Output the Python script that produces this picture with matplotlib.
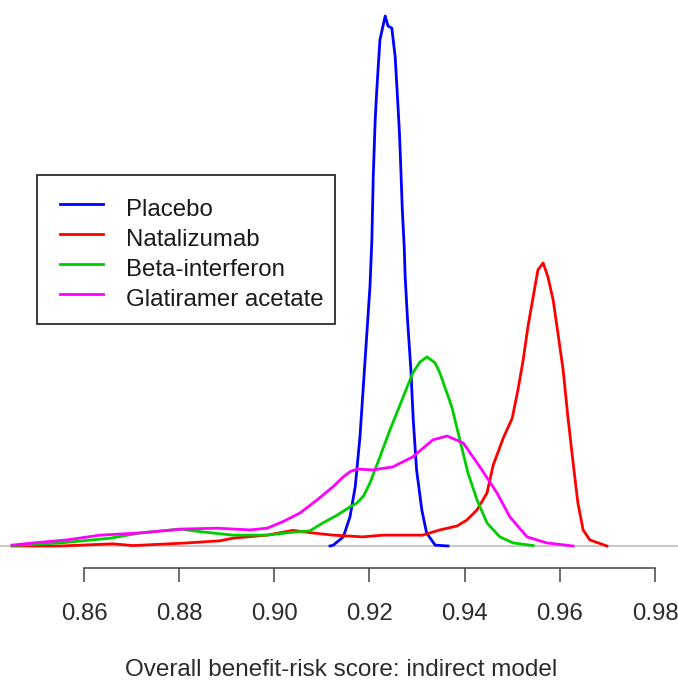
import matplotlib
matplotlib.use("Agg")
import matplotlib.pyplot as plt
from matplotlib.lines import Line2D
from matplotlib.patches import Rectangle

plt.rcParams['font.family'] = ['Liberation Sans', 'DejaVu Sans']

# density curves (score, density)
placebo_x = [0.9117, 0.9124, 0.9145, 0.9159, 0.9170, 0.9180, 0.9187, 0.9194, 0.9201,
             0.9205, 0.9208, 0.9212, 0.9215, 0.9219, 0.9222, 0.9233, 0.9239, 0.9247,
             0.9254, 0.9258, 0.9263, 0.9266, 0.9269, 0.9273, 0.9275, 0.9280, 0.9287,
             0.9292, 0.9299, 0.9310, 0.9320, 0.9338, 0.9365]
placebo_y = [0.0, 0.2, 2.1, 6.7, 13.6, 25.1, 36.6, 48.1, 59.6,
             70.4, 85.3, 98.0, 104.2, 111.3, 116.4, 121.9, 119.6, 119.1,
             112.5, 104.9, 95.0, 86.5, 77.3, 68.8, 61.9, 52.0, 40.5,
             29.0, 17.5, 8.3, 3.0, 0.2, 0.0]

natal_x = [0.8449, 0.8550, 0.8661, 0.8703, 0.8816, 0.8886, 0.8913, 0.8985, 0.9039,
           0.9081, 0.9123, 0.9186, 0.9228, 0.9312, 0.9348, 0.9384, 0.9405, 0.9426,
           0.9447, 0.9460, 0.9481, 0.9500, 0.9512, 0.9523, 0.9533, 0.9544, 0.9554,
           0.9565, 0.9575, 0.9586, 0.9596, 0.9607, 0.9617, 0.9628, 0.9638, 0.9649,
           0.9663, 0.9699]
natal_y = [0.0, 0.0, 0.5, 0.1, 0.7, 1.2, 1.8, 2.5, 3.6,
           3.0, 2.5, 2.1, 2.5, 2.5, 3.7, 4.6, 6.0, 8.3,
           12.2, 18.6, 24.8, 29.4, 35.9, 42.8, 50.4, 57.3, 63.5,
           65.1, 61.9, 56.6, 49.0, 40.5, 29.7, 19.1, 9.9, 3.7,
           1.4, 0.0]

beta_x = [0.8449, 0.8550, 0.8655, 0.8718, 0.8802, 0.8844, 0.8913, 0.8985, 0.9033,
          0.9075, 0.9102, 0.9132, 0.9159, 0.9174, 0.9188, 0.9201, 0.9222, 0.9243, 0.9264,
          0.9291, 0.9306, 0.9321, 0.9338, 0.9348, 0.9373, 0.9390, 0.9407, 0.9426,
          0.9447, 0.9474, 0.9502, 0.9544]
beta_y = [0.1, 0.7, 1.8, 3.0, 3.9, 3.3, 2.5, 2.5, 3.1,
          3.5, 5.3, 7.1, 9.0, 9.9, 11.6, 14.5, 20.5, 26.7, 32.4,
          39.8, 42.3, 43.5, 42.1, 39.8, 32.0, 24.4, 16.8, 10.6,
          5.3, 2.1, 0.7, 0.1]

glat_x = [0.8449, 0.8493, 0.8564, 0.8634, 0.8718, 0.8808, 0.8880, 0.8949, 0.8985,
          0.9018, 0.9054, 0.9090, 0.9123, 0.9145, 0.9159, 0.9174, 0.9207, 0.9249, 0.9291,
          0.9333, 0.9363, 0.9397, 0.9432, 0.9468, 0.9495, 0.9531, 0.9573, 0.9628]
glat_y = [0.2, 0.7, 1.4, 2.5, 3.0, 3.9, 4.1, 3.7, 4.1,
          5.6, 7.6, 10.6, 13.6, 15.9, 17.1, 17.7, 17.5, 18.2, 20.5,
          24.4, 25.3, 23.7, 18.2, 12.2, 6.7, 2.1, 0.7, 0.0]

labels = ['Placebo', 'Natalizumab', 'Beta-interferon', 'Glatiramer acetate']
colors = ['#0000FF', '#FF0000', '#00CD00', '#FF00FF']
series = [(placebo_x, placebo_y), (natal_x, natal_y), (beta_x, beta_y), (glat_x, glat_y)]
ticks = [0.86, 0.88, 0.90, 0.92, 0.94, 0.96, 0.98]

W, H = 678, 686
fig = plt.figure(figsize=(W / 100, H / 100), dpi=100)
ax = fig.add_axes([0, (H - 568) / H, 1, 568 / H])

ax.axhline(0, color='#BEBEBE', lw=1.2, zorder=1)
for (xs, ys), c in zip(series, colors):
    ax.plot(xs, ys, color=c, lw=2.0, zorder=2, solid_joinstyle='round')

ax.set_xlim(0.86 - 84 / 4758, 0.86 + 594 / 4758)
ax.set_ylim(-22 * 0.23, 546 * 0.23)

for s in ['top', 'left', 'right']:
    ax.spines[s].set_visible(False)
ax.spines['bottom'].set_bounds(ticks[0], ticks[-1])
ax.spines['bottom'].set_color('#444444')
ax.spines['bottom'].set_linewidth(1.1)
ax.set_yticks([])
ax.set_xticks(ticks)
ax.set_xticklabels([f'{t:.2f}' for t in ticks])
ax.tick_params(axis='x', length=10, width=1.1, color='#444444', pad=15,
               labelsize=17.3, labelcolor='#2b2b2b')
ax.patch.set_visible(False)

fig.text(341 / W, (H - 670) / H, 'Overall benefit-risk score: indirect model',
         ha='center', va='center', fontsize=17.5, color='#2b2b2b')


# legend drawn in pixel positions
def px(x, y):
    return x / W, (H - y) / H


bx, by = px(37, 324)
fig.add_artist(Rectangle((bx, by), 298 / W, 149 / H, transform=fig.transFigure,
                         fill=False, edgecolor='#1a1a1a', lw=1.2))
rows = [204, 234, 264, 294]
for lab, c, r in zip(labels, colors, rows):
    x0, y0 = px(60, r)
    x1, _ = px(103, r)
    fig.add_artist(Line2D([x0, x1], [y0, y0], transform=fig.transFigure, color=c, lw=2.0))
    tx, ty = px(126, r + 12)
    fig.text(tx, ty, lab, ha='left', va='baseline', fontsize=17.3, color='#1a1a1a')

fig.savefig('out.png', dpi=100)
